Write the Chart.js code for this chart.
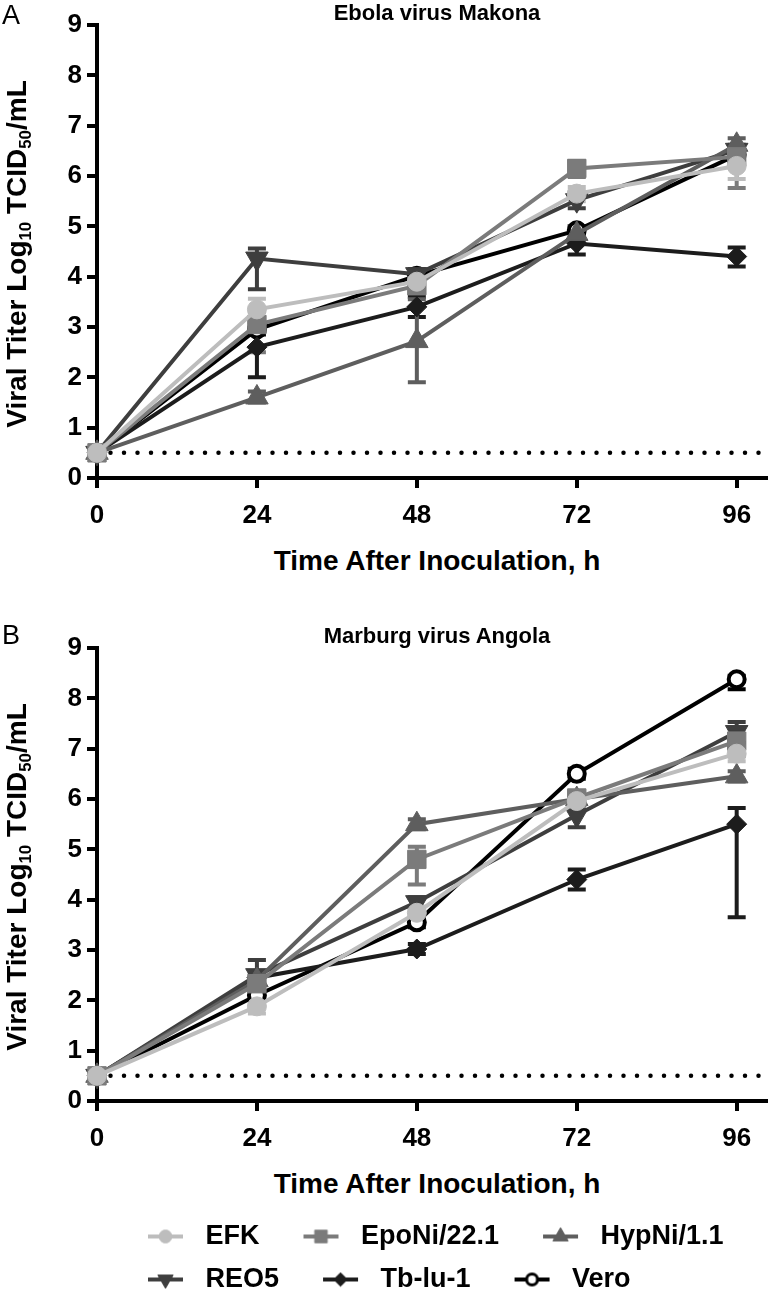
<!DOCTYPE html>
<html>
<head>
<meta charset="utf-8">
<script src="https://cdn.jsdelivr.net/npm/chart.js@4.4.1/dist/chart.umd.min.js"></script>
<style>
  body { margin: 0; background: #fff; }
  #wrap { position: relative; width: 780px; height: 1294px; font-family: 'Liberation Sans', Arial, Helvetica, sans-serif; color: #000; overflow: hidden; }
  canvas { position: absolute; }
  .c { position: absolute; white-space: nowrap; font-weight: bold; transform: translate(-50%, -50%); }
  .panel { position: absolute; font-size: 27px; line-height: 1; }
  .ylab { position: absolute; white-space: nowrap; font-weight: bold; font-size: 28px; transform: translate(-50%, -50%) rotate(-90deg); }
  sub { font-size: 0.6em; vertical-align: -0.3em; line-height: 0; }
</style>
</head>
<body>
<div id="wrap">
  <canvas id="chartA" width="780" height="540" style="left:0;top:0"></canvas>
  <canvas id="chartB" width="780" height="540" style="left:0;top:623px"></canvas>
  <canvas id="legend" width="676" height="200" style="left:104px;top:1207px"></canvas>

  <div class="panel" style="left:2px;top:2px">A</div>
  <div class="c" style="left:437px;top:13px;font-size:22px">Ebola virus Makona</div>
  <div class="ylab" style="left:17px;top:254px">Viral Titer Log<sub>10</sub> TCID<sub>50</sub>/mL</div>
  <div class="c" style="left:437px;top:561px;font-size:28px">Time After Inoculation, h</div>

  <div class="panel" style="left:2px;top:622px">B</div>
  <div class="c" style="left:437px;top:636px;font-size:22px">Marburg virus Angola</div>
  <div class="ylab" style="left:17px;top:877px">Viral Titer Log<sub>10</sub> TCID<sub>50</sub>/mL</div>
  <div class="c" style="left:437px;top:1184px;font-size:28px">Time After Inoculation, h</div>
</div>

<script>
// time points and axis ticks
const hours = [0, 24, 48, 72, 96];
const xTicks = [0, 24, 48, 72, 96];
const yTicks = [0, 1, 2, 3, 4, 5, 6, 7, 8, 9];
const xMax = 100.4;
const detectionLimit = 0.5;

const seriesNames = ["EFK", "EpoNi/22.1", "HypNi/1.1", "REO5", "Tb-lu-1", "Vero"];

// Ebola virus Makona (log10 TCID50/mL)
const ebolaEFK   = [0.5, 3.35, 3.90, 5.65, 6.20];
const ebolaEpoNi = [0.5, 3.05, 3.82, 6.15, 6.38];
const ebolaHypNi = [0.5, 1.60, 2.72, 4.85, 6.62];
const ebolaREO5  = [0.5, 4.36, 4.05, 5.52, 6.52];
const ebolaTblu  = [0.5, 2.60, 3.40, 4.66, 4.40];
const ebolaVero  = [0.5, 2.95, 4.02, 4.92, 6.42];

// error bar ends [low, high]
const ebolaErrEFK   = [null, [3.20, 3.56], [3.75, 4.02], [5.50, 5.78], [5.94, 6.40]];
const ebolaErrEpoNi = [null, [2.50, 3.30], [3.68, 3.95], [5.98, 6.30], [5.76, 6.55]];
const ebolaErrHypNi = [null, [1.50, 1.72], [1.90, 3.55], [4.70, 5.00], [6.50, 6.75]];
const ebolaErrREO5  = [null, [3.75, 4.56], [3.95, 4.15], [5.36, 5.66], [6.40, 6.62]];
const ebolaErrTblu  = [null, [2.00, 3.10], [3.20, 3.60], [4.44, 4.88], [4.20, 4.58]];
const ebolaErrVero  = [null, [2.85, 3.05], [3.95, 4.10], [4.82, 5.00], [6.32, 6.52]];

// Marburg virus Angola (log10 TCID50/mL)
const marburgEFK   = [0.5, 1.88, 3.74, 5.96, 6.90];
const marburgEpoNi = [0.5, 2.33, 4.80, 6.02, 7.15];
const marburgHypNi = [0.5, 2.40, 5.50, 6.00, 6.45];
const marburgREO5  = [0.5, 2.50, 3.95, 5.68, 7.33];
const marburgTblu  = [0.5, 2.45, 3.02, 4.40, 5.50];
const marburgVero  = [0.5, 2.10, 3.55, 6.50, 8.38];

const marburgErrEFK   = [null, [1.74, 2.02], [3.62, 3.86], [5.86, 6.06], [6.75, 7.05]];
const marburgErrEpoNi = [null, [2.10, 2.56], [4.30, 5.05], [5.92, 6.12], [6.85, 7.40]];
const marburgErrHypNi = [null, [2.30, 2.50], [5.40, 5.60], [5.90, 6.10], [6.35, 6.55]];
const marburgErrREO5  = [null, [2.20, 2.80], [3.85, 4.05], [5.44, 5.90], [7.12, 7.53]];
const marburgErrTblu  = [null, [2.35, 2.55], [2.92, 3.12], [4.20, 4.60], [3.65, 5.82]];
const marburgErrVero  = [null, [2.00, 2.20], [3.45, 3.65], [6.40, 6.60], [8.18, 8.45]];

const colors = ["#bdbdbd", "#7b7b7b", "#5e5e5e", "#3e3e3e", "#1c1c1c", "#000000"];
const markers = [
  { style: "circle",   radius: 9.5, rotation: 0 },
  { style: "rect",     radius: 13,  rotation: 0 },
  { style: "triangle", radius: 13,  rotation: 0 },
  { style: "triangle", radius: 13,  rotation: 180 },
  { style: "rectRot",  radius: 10,  rotation: 0 },
  { style: "circle",   radius: 8,   rotation: 0, open: true }
];

const font = "'Liberation Sans', Arial, Helvetica, sans-serif";

// draws the error bars under the lines and symbols
const errorBars = {
  id: "errorBars",
  beforeDatasetsDraw(chart) {
    const { ctx } = chart;
    const x = chart.scales.x, y = chart.scales.y;
    const sets = chart.data.datasets;
    for (let d = sets.length - 1; d >= 0; d--) {
      const ds = sets[d];
      if (!ds.errors) continue;
      ctx.save();
      ctx.strokeStyle = ds.borderColor;
      ctx.lineWidth = 4;
      ds.errors.forEach((e, i) => {
        if (!e) return;
        const px = x.getPixelForValue(hours[i]);
        const lo = y.getPixelForValue(e[0]);
        const hi = y.getPixelForValue(e[1]);
        ctx.beginPath();
        ctx.moveTo(px, lo); ctx.lineTo(px, hi);
        ctx.moveTo(px - 9, lo); ctx.lineTo(px + 9, lo);
        ctx.moveTo(px - 9, hi); ctx.lineTo(px + 9, hi);
        ctx.stroke();
      });
      ctx.restore();
    }
  }
};

const buildDatasets = (values, errors) => {
  const sets = values.map((vals, i) => ({
    label: seriesNames[i],
    data: hours.map((h, k) => ({ x: h, y: vals[k] })),
    errors: errors[i],
    borderColor: colors[i],
    backgroundColor: markers[i].open ? "#ffffff" : colors[i],
    pointBackgroundColor: markers[i].open ? "#ffffff" : colors[i],
    pointBorderColor: colors[i],
    pointBorderWidth: markers[i].open ? 4 : 1,
    pointStyle: markers[i].style,
    pointRotation: markers[i].rotation,
    pointRadius: markers[i].radius,
    borderWidth: 4,
    tension: 0,
    clip: false
  }));
  // dotted detection limit line
  sets.push({
    label: "limit",
    data: [{ x: 0, y: detectionLimit }, { x: xMax, y: detectionLimit }],
    borderColor: "#000",
    borderWidth: 4.5,
    borderDash: [0, 13.5],
    borderCapStyle: "round",
    pointRadius: 0,
    clip: false
  });
  return sets;
};

const makeChart = (id, values, errors) => {
  new Chart(document.getElementById(id), {
    type: "line",
    data: { datasets: buildDatasets(values, errors) },
    options: {
      responsive: false,
      animation: false,
      devicePixelRatio: 1,
      layout: { padding: { top: 25, right: 2, left: 0, bottom: 0 } },
      plugins: { legend: { display: false }, tooltip: { enabled: false } },
      scales: {
        x: {
          type: "linear",
          min: 0,
          max: xMax,
          afterBuildTicks: (scale) => { scale.ticks = xTicks.map(v => ({ value: v })); },
          afterFit: (scale) => { scale.height = 62; },
          grid: { drawOnChartArea: false, tickLength: 10, lineWidth: 4, color: "#000" },
          border: { display: true, width: 4, color: "#000" },
          ticks: { color: "#000", padding: 12, maxRotation: 0, font: { family: font, size: 26, weight: "bold" } }
        },
        y: {
          min: 0,
          max: 9,
          afterBuildTicks: (scale) => { scale.ticks = yTicks.map(v => ({ value: v })); },
          afterFit: (scale) => { scale.width = 97; },
          grid: { drawOnChartArea: false, tickLength: 10, lineWidth: 4, color: "#000" },
          border: { display: true, width: 4, color: "#000" },
          ticks: { color: "#000", padding: 5, font: { family: font, size: 26, weight: "bold" } }
        }
      }
    },
    plugins: [errorBars]
  });
};

makeChart("chartA",
  [ebolaEFK, ebolaEpoNi, ebolaHypNi, ebolaREO5, ebolaTblu, ebolaVero],
  [ebolaErrEFK, ebolaErrEpoNi, ebolaErrHypNi, ebolaErrREO5, ebolaErrTblu, ebolaErrVero]);

makeChart("chartB",
  [marburgEFK, marburgEpoNi, marburgHypNi, marburgREO5, marburgTblu, marburgVero],
  [marburgErrEFK, marburgErrEpoNi, marburgErrHypNi, marburgErrREO5, marburgErrTblu, marburgErrVero]);

// legend icons: short line with the series symbol, set to the right of the box
const iconWidth = 72;
const makeIcon = (i) => {
  const c = document.createElement("canvas");
  c.width = iconWidth; c.height = 24;
  const g = c.getContext("2d");
  const x0 = 28, x1 = 63, xm = (x0 + x1) / 2;
  g.strokeStyle = colors[i];
  g.fillStyle = markers[i].open ? "#ffffff" : colors[i];
  g.lineWidth = 4;
  g.beginPath(); g.moveTo(x0, 12); g.lineTo(x1, 12); g.stroke();
  g.lineWidth = markers[i].open ? 3 : 1;
  Chart.helpers.drawPoint(g, {
    pointStyle: markers[i].style,
    rotation: markers[i].rotation,
    radius: markers[i].radius * 0.68,
    borderWidth: g.lineWidth
  }, xm, 12);
  return c;
};
const icons = seriesNames.map((n, i) => makeIcon(i));

new Chart(document.getElementById("legend"), {
  type: "line",
  data: { datasets: seriesNames.map(n => ({ label: n, data: [] })) },
  options: {
    responsive: false,
    animation: false,
    devicePixelRatio: 1,
    layout: { padding: 0 },
    scales: { x: { display: false }, y: { display: false } },
    plugins: {
      tooltip: { enabled: false },
      legend: {
        position: "top",
        align: "start",
        labels: {
          usePointStyle: true,
          pointStyleWidth: iconWidth,
          padding: 16,
          color: "#000",
          font: { family: font, size: 27, weight: "bold" },
          generateLabels: () => seriesNames.map((n, i) => ({
            text: n,
            pointStyle: icons[i],
            fillStyle: "transparent",
            strokeStyle: "transparent",
            lineWidth: 0,
            hidden: false,
            datasetIndex: i,
            fontColor: "#000"
          }))
        }
      }
    }
  }
});
</script>
</body>
</html>
